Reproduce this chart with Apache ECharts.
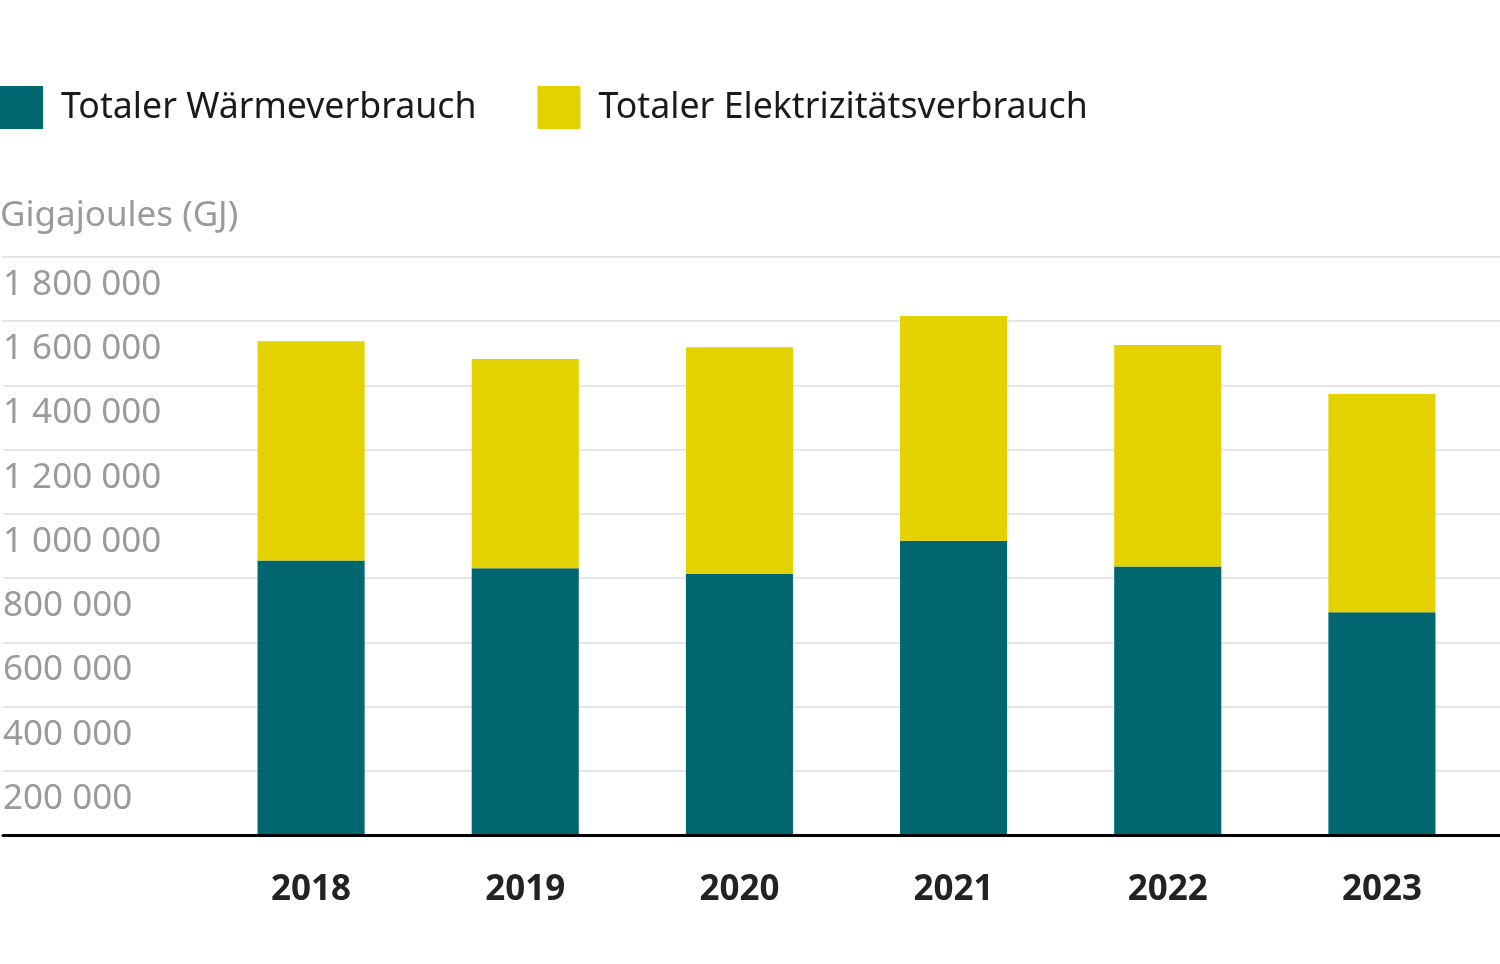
<!DOCTYPE html>
<html>
<head>
<meta charset="utf-8">
<script src="https://cdn.jsdelivr.net/npm/echarts@6/dist/echarts.min.js"></script>
<style>
html,body{margin:0;padding:0;background:#fff;}
#chart{width:1500px;height:964px;}
</style>
</head>
<body>
<div id="chart"></div>
<script>
const categories = ['2018', '2019', '2020', '2021', '2022', '2023'];
const heatValues = [855000, 831000, 812500, 916000, 836000, 694000];
const elecValues = [683000, 651000, 706500, 700500, 690000, 679000];
const seriesNames = ['Totaler Wärmeverbrauch', 'Totaler Elektrizitätsverbrauch'];
const unitLabel = 'Gigajoules (GJ)';

const FONT = '"Noto Sans", "Open Sans", sans-serif';
const fmt = v => v === 0 ? '' : String(v).replace(/\B(?=(\d{3})+(?!\d))/g, ' ');

const chart = echarts.init(document.getElementById('chart'), null, {renderer: 'canvas'});
chart.setOption({
  animation: false,
  backgroundColor: '#ffffff',
  textStyle: {fontFamily: FONT},
  title: {
    text: unitLabel,
    left: 0, top: 198, padding: 0,
    textStyle: {fontFamily: FONT, fontSize: 35, lineHeight: 36, fontWeight: 'normal', color: '#9a9a9a'}
  },
  legend: {
    left: 0, top: 86, padding: 0,
    icon: 'rect', itemWidth: 43, itemHeight: 43, itemGap: 61,
    data: seriesNames,
    textStyle: {fontFamily: FONT, fontSize: 35.7, color: '#1a1a1a', padding: [6, 0, 0, 13]}
  },
  grid: [
    {left: -3, right: 0, top: 257, bottom: 129},
    {left: 204, right: 11, top: 257, bottom: 129}
  ],
  xAxis: [
    {
      gridIndex: 0, type: 'value', min: 0, max: 1, z: 10,
      axisLine: {show: true, lineStyle: {color: '#000', width: 3}},
      axisTick: {show: false}, axisLabel: {show: false}, splitLine: {show: false}
    },
    {
      gridIndex: 1, type: 'category', data: categories,
      axisLine: {show: false}, axisTick: {show: false},
      axisLabel: {fontFamily: FONT, fontSize: 35, lineHeight: 35, fontWeight: 'bold', color: '#222', margin: 38}
    }
  ],
  yAxis: [
    {
      gridIndex: 0, type: 'value', min: 0, max: 1800000, interval: 200000,
      axisLine: {show: false}, axisTick: {show: false},
      splitLine: {show: true, lineStyle: {color: '#e6e6e6', width: 2}},
      axisLabel: {
        inside: true, margin: 0, formatter: fmt,
        fontFamily: FONT, fontSize: 35, lineHeight: 34, color: '#9a9a9a',
        verticalAlign: 'top', padding: [11, 0, 0, 0]
      }
    },
    {
      gridIndex: 1, type: 'value', min: 0, max: 1800000, show: false,
      splitLine: {show: false}
    }
  ],
  series: [
    {
      name: seriesNames[0], type: 'bar', stack: 'total', barWidth: '50%',
      xAxisIndex: 1, yAxisIndex: 1,
      itemStyle: {color: '#00666f'}, data: heatValues
    },
    {
      name: seriesNames[1], type: 'bar', stack: 'total', barWidth: '50%',
      xAxisIndex: 1, yAxisIndex: 1,
      itemStyle: {color: '#e4d200'}, data: elecValues
    }
  ]
});
</script>
</body>
</html>
